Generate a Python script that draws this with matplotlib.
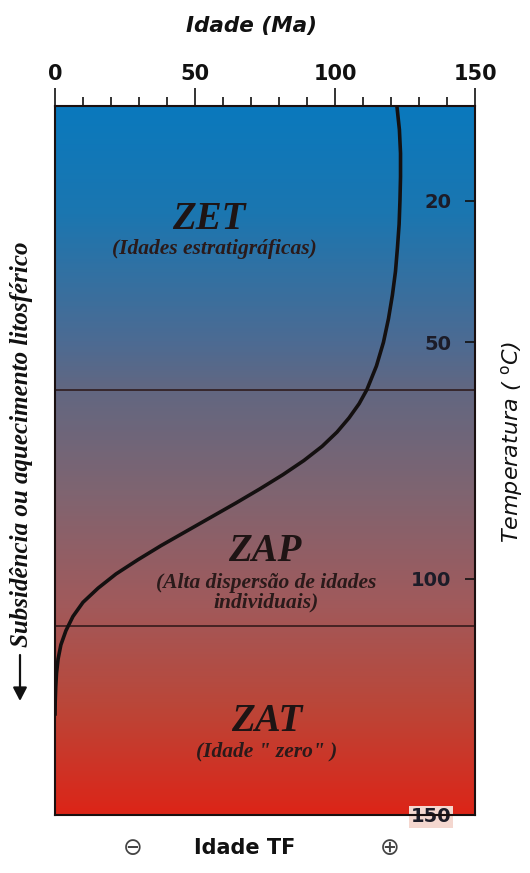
import numpy as np
import matplotlib
matplotlib.use("Agg")
import matplotlib.pyplot as plt
from matplotlib.colors import LinearSegmentedColormap
from matplotlib.patches import FancyArrowPatch

# ---- data ----
age_ticks = [0, 50, 100, 150]
age_minor = [0, 10, 20, 30, 40, 50, 60, 70, 80, 90, 100, 110, 120, 130, 140, 150]
temp_ticks = [20, 50, 100, 150]
temp_labels = ["20", "50", "100", "150"]

curve_age = [122.1, 123.0, 123.4, 123.4, 123.2, 122.9, 122.3, 121.6, 120.5, 119.1,
             117.3, 114.8, 111.4, 108.6, 105.0, 100.7, 95.4, 88.9, 81.4, 73.2,
             64.6, 55.7, 46.8, 37.9, 29.6, 21.8, 15.4, 10.0, 6.4, 3.9,
             2.1, 1.1, 0.54, 0.25, 0.07, 0.0]
curve_temp = [0, 5, 10, 15, 20, 25, 30, 35, 40, 45,
              50, 55, 60, 63, 66, 69, 72, 75, 78, 81,
              84, 87, 90, 93, 96, 99, 102, 105, 108, 111,
              114, 117, 120, 123, 126, 129]

zone_bounds = [60, 110]

zone_names = ["ZET", "ZAP", "ZAT"]
zone_subs = ["(Idades estratigráficas)", "(Alta dispersão de idades\nindividuais)", "(Idade \" zero\" )"]
zone_name_pos = [(55, 24.0), (75, 94.3), (75.5, 130.3)]
zone_sub_pos = [(57, 30.2), (75.5, 103.0), (75.5, 136.6)]

# ---- figure ----
W, H = 530, 873
fig = plt.figure(figsize=(W / 100, H / 100), dpi=100)
L, R, T, B = 55, 475, 106, 815
ax = fig.add_axes([L / W, 1 - B / H, (R - L) / W, (B - T) / H])

cmap = LinearSegmentedColormap.from_list("grad", [
    (0.00, "#0a79bd"),
    (0.15, "#1b76b0"),
    (0.33, "#4c6b93"),
    (0.40, "#626781"),
    (0.55, "#806470"),
    (0.70, "#a05a5c"),
    (0.85, "#bb4638"),
    (1.00, "#dc2518"),
])
grad = np.linspace(0, 1, 400).reshape(-1, 1)
ax.imshow(grad, cmap=cmap, extent=[0, 150, 150, 0], aspect="auto", zorder=0)

ax.set_xlim(0, 150)
ax.set_ylim(150, 0)

for b in zone_bounds:
    ax.axhline(b, color="#2b1616", lw=1.1, zorder=2)

ax.plot(curve_age, curve_temp, color="#141010", lw=2.6, zorder=3,
        solid_capstyle="butt", solid_joinstyle="round")

serif = "Liberation Serif"
for name, sub, (nx, ny), (sx, sy) in zip(zone_names, zone_subs, zone_name_pos, zone_sub_pos):
    ax.text(nx, ny, name, ha="center", va="center", fontsize=28, family=serif,
            weight="bold", style="italic", color="#1e1414", zorder=4)
    ax.text(sx, sy, sub, ha="center", va="center", fontsize=15.5, family=serif,
            weight="bold", style="italic", color="#2a1a1a", zorder=4,
            linespacing=0.95)

# top axis
ax.xaxis.tick_top()
ax.set_xticks(age_ticks)
ax.set_xticks(age_minor, minor=True)
ax.tick_params(axis="x", which="major", direction="out", length=13, width=1.2,
               labelsize=15, pad=3, colors="#111111")
ax.tick_params(axis="x", which="minor", direction="out", length=6.5, width=1.2,
               colors="#111111")
for lbl in ax.get_xticklabels():
    lbl.set_fontweight("bold")

# right axis
ax.yaxis.tick_right()
ax.set_yticks(temp_ticks)
ax.set_yticklabels(temp_labels)
ax.tick_params(axis="y", direction="in", length=7, width=1.2, pad=-17,
               labelsize=14, colors="#111111", labelcolor="#1c1c28")
for lbl in ax.get_yticklabels():
    lbl.set_fontweight("bold")
    lbl.set_ha("right")
ylbls = ax.get_yticklabels()
ylbls[-1].set_bbox(dict(facecolor="#f4d7cf", edgecolor="none", pad=1.0))

for s in ax.spines.values():
    s.set_color("#1a1010")
    s.set_linewidth(1.5)

# labels
fig.text(252 / W, 1 - 26 / H, "Idade (Ma)", ha="center", va="center",
         fontsize=15.5, weight="bold", style="italic", color="#111111")
fig.text(512 / W, 1 - 442 / H, r"Temperatura ( $^{\mathrm{o}}$C)", ha="center",
         va="center", rotation=90, fontsize=16, style="italic", color="#111111")
fig.text(22 / W, 1 - 444 / H, "Subsidência ou aquecimento litosférico",
         ha="center", va="center", rotation=90, fontsize=18, family=serif,
         weight="bold", style="italic", color="#111111")
fig.add_artist(FancyArrowPatch(
    (20 / W, 1 - 655 / H), (20 / W, 1 - 701 / H), transform=fig.transFigure,
    arrowstyle="-|>,head_length=5,head_width=2.6", lw=1.6, color="#111111",
    mutation_scale=1.6, shrinkA=0, shrinkB=0))

fig.text(133 / W, 1 - 848 / H, "\u2296", ha="center", va="center",
         fontsize=17, color="#444444")
fig.text(245 / W, 1 - 848 / H, "Idade TF", ha="center", va="center",
         fontsize=15, weight="bold", color="#111111")
fig.text(390 / W, 1 - 848 / H, "\u2295", ha="center", va="center",
         fontsize=17, color="#444444")

fig.savefig("out.png", dpi=100)
